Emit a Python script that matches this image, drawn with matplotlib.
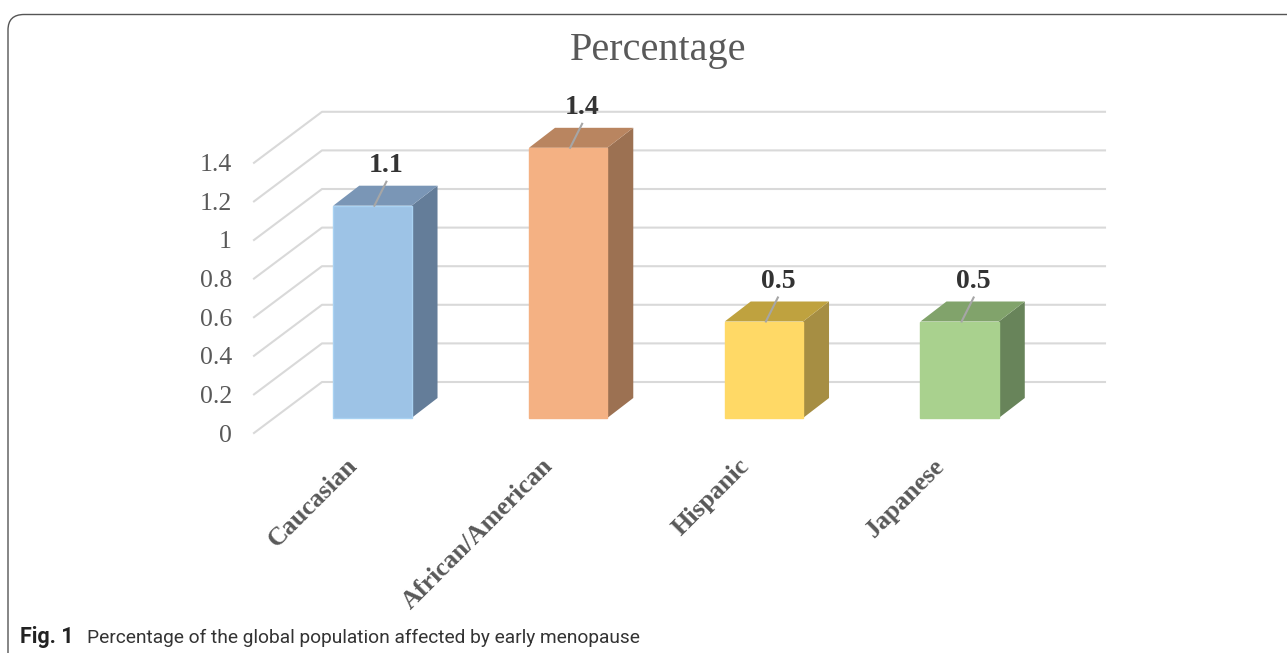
import matplotlib
matplotlib.use("Agg")
import matplotlib.pyplot as plt
from matplotlib.patches import PathPatch
from matplotlib.path import Path
from matplotlib.transforms import Affine2D

W, H = 1287, 653

categories = ["Caucasian", "African/American", "Hispanic", "Japanese"]
values = [1.1, 1.4, 0.5, 0.5]
y_ticks = [0, 0.2, 0.4, 0.6, 0.8, 1, 1.2, 1.4]
y_labels = ["0", "0.2", "0.4", "0.6", "0.8", "1", "1.2", "1.4"]
front_colors = ["#9DC3E6", "#F4B183", "#FFD966", "#A9D18E"]
top_colors = ["#7A96B6", "#B98560", "#BFA23F", "#81A36B"]
side_colors = ["#647D99", "#9C7152", "#A68E43", "#68845A"]
edge_colors = ["#A9D2F2", "#F4B183", "#FFD966", "#A9D18E"]

plt.rcParams["font.family"] = ["Liberation Serif", "DejaVu Serif"]

fig = plt.figure(figsize=(W / 100, H / 100), dpi=100, facecolor="white")

# front plane of the fake 3D box, in pixels
left, right, base, unit = 254, 1037, 433, 193
ax = fig.add_axes([left / W, 1 - base / H, (right - left) / W, 1.4 * unit / H])
ax.set_xlim(-0.5, 3.5)
ax.set_ylim(0, 1.4)
ax.patch.set_alpha(0)
for s in ax.spines.values():
    s.set_visible(False)

px_x = 4 / (right - left)
px_y = 1 / unit


def dx(p):
    return p * px_x


def dy(p):
    return p * px_y


# walls
grid = "#D9D9D9"
for v in y_ticks:
    ax.plot([-0.5, -0.5 + dx(68), 3.5 + dx(68)], [v, v + dy(51), v + dy(51)],
            color=grid, lw=1.5, clip_on=False, zorder=1)

# bars
bar_w = 0.2
for i, v in enumerate(values):
    x0 = i - bar_w + dx(20.5)
    x1 = i + bar_w + dx(20.5)
    y0 = dy(15)
    y1 = y0 + v
    ox, oy = dx(26), dy(20)
    ax.fill([x1, x1 + ox, x1 + ox, x1], [y0, y0 + oy, y1 + oy, y1],
            color=side_colors[i], lw=0, clip_on=False, zorder=2)
    ax.fill([x0, x1, x1 + ox, x0 + ox], [y1, y1, y1 + oy, y1 + oy],
            color=top_colors[i], lw=0, clip_on=False, zorder=2)
    ax.fill([x0, x1, x1, x0], [y0, y0, y1, y1], facecolor=front_colors[i],
            edgecolor=edge_colors[i], lw=1, clip_on=False, zorder=3)
    # leader line and value label
    xm = i + dx(22.5)
    ax.plot([xm, xm + dx(12)], [y1, y1 + dy(24)], color="#A6A6A6", lw=1.5,
            clip_on=False, zorder=4)
    ax.annotate(str(v), xy=(xm, y1), xytext=(12, 28), textcoords="offset pixels",
                ha="center", va="bottom", fontsize=20, fontweight="bold",
                color="#333333", annotation_clip=False, zorder=5)
    ax.annotate(categories[i], xy=(i, 0), xytext=(-6, -21), textcoords="offset pixels",
                ha="right", va="top", rotation=45, rotation_mode="anchor",
                fontsize=18.7, fontweight="bold", color="#595959", annotation_clip=False)

ax.set_xticks([])
ax.set_yticks(y_ticks)
ax.set_yticklabels(y_labels, fontsize=18.5, color="#595959")
ax.tick_params(axis="y", length=0, pad=16)

fig.text(658.5 / W, 1 - 60 / H, "Percentage", ha="center", va="baseline",
         fontsize=29, color="#595959")

# rounded frame that runs off the page on the right and at the bottom
to_px = Affine2D().scale(1, -1).translate(0, H)
frame = Path([(8, H), (8, 30), (8, 14.5), (24, 14.5), (W, 14.5)],
             [Path.MOVETO, Path.LINETO, Path.CURVE3, Path.CURVE3, Path.LINETO])
fig.add_artist(PathPatch(frame, transform=to_px, fill=False, edgecolor="#555555", lw=1))

fig.text(20 / W, 1 - 643 / H, "Fig. 1", family="Roboto", fontweight="bold",
         fontsize=15.5, color="#222222", va="baseline")
fig.text(87 / W, 1 - 643 / H, "Percentage of the global population affected by early menopause",
         family="Roboto", fontsize=13.8, color="#333333", va="baseline")

fig.savefig("out.png", dpi=100)
plt.close(fig)
